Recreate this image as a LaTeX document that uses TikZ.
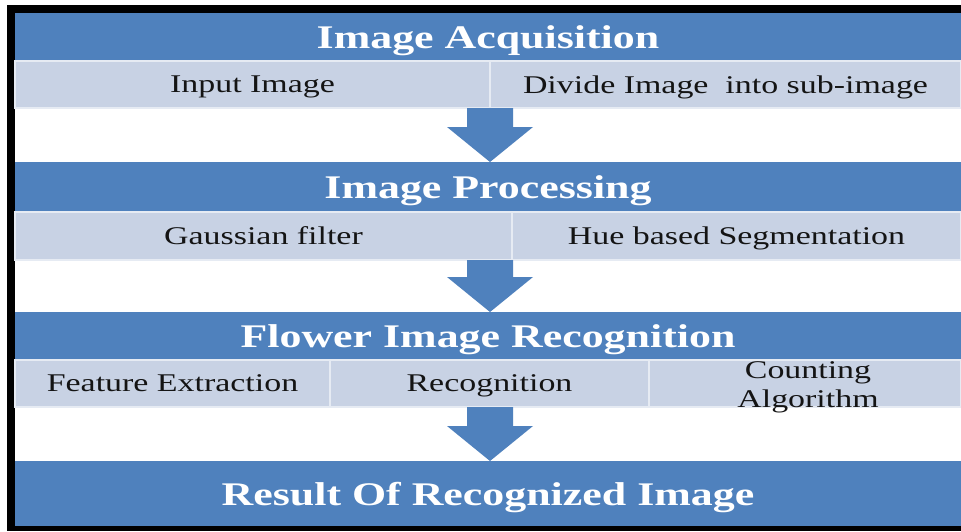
\documentclass[tikz,border=0pt]{standalone}
\usepackage{fontspec}
\setmainfont{Liberation Serif}[FakeStretch=1.33]
\usetikzlibrary{calc}
\definecolor{hblue}{HTML}{4F81BD}
\definecolor{lblue}{HTML}{C8D2E4}
\definecolor{celltxt}{HTML}{141414}
\newcommand\flowarrow[2]{%
  \fill[hblue] ($(#1)+(-23,0)$) -- ($(#1)+(23,0)$) -- ($(#2)+(23,-35)$) -- ($(#2)+(43,-35)$)
    -- (#2) -- ($(#2)+(-43,-35)$) -- ($(#2)+(-23,-35)$) -- cycle;}
\begin{document}
\begin{tikzpicture}[x=1pt,y=-1pt,
  headbar/.style={fill=hblue, text=white, font=\fontsize{33}{36}\selectfont\bfseries,
    inner sep=0pt, outer sep=0pt, anchor=north west, minimum width=946pt, text depth=0pt},
  cell/.style={fill=lblue, draw=white!55!lblue, line width=1.2pt, inner sep=0pt, outer sep=0pt,
    anchor=north west, text=celltxt, font=\fontsize{25.5}{29}\selectfont, align=center, text depth=0pt},
  celltext/.style={text=celltxt, font=\fontsize{25.5}{29}\selectfont, align=center, inner sep=0pt}]
\useasboundingbox (0,0) rectangle (961,531);
\fill[white] (0,0) rectangle (961,531);
% black frame
\fill[black] (7,5) rectangle (961,531);
\fill[white] (15,13) rectangle (961,526);
% stage 1
\node[headbar, minimum height=48pt] (h1) at (15,13) {Image Acquisition};
\node[cell, minimum width=475pt, minimum height=47pt] (c11) at (15,61) {Input Image};
\node[cell, minimum width=471pt, minimum height=47pt] (c12) at (490,61) {Divide Image\ \ into sub-image};
% stage 2
\node[headbar, minimum height=50pt] (h2) at (15,162) {Image Processing};
\node[cell, minimum width=497pt, minimum height=48pt] (c21) at (15,212) {Gaussian filter};
\node[cell, minimum width=449pt, minimum height=48pt] (c22) at (512,212) {Hue based Segmentation};
% stage 3
\node[headbar, minimum height=48pt] (h3) at (15,312) {Flower Image Recognition};
\node[cell, minimum width=315pt, minimum height=47pt] (c31) at (15,360) {Feature Extraction};
\node[cell, minimum width=319pt, minimum height=47pt] (c32) at (330,360) {Recognition};
\node[cell, minimum width=312pt, minimum height=47pt] (c33) at (649,360) {};
\node[celltext] (t33) at ($(c33.center)+(3,4)$) {Counting\\Algorithm};
% stage 4
\node[headbar, minimum height=65pt] (h4) at (15,461) {Result Of Recognized Image};
% arrows
\coordinate (ax) at (490,0);
\coordinate (a1s) at (ax |- c11.south);
\coordinate (a1e) at (ax |- h2.north);
\coordinate (a2s) at (ax |- c21.south);
\coordinate (a2e) at (ax |- h3.north);
\coordinate (a3s) at (ax |- c31.south);
\coordinate (a3e) at (ax |- h4.north);
\flowarrow{a1s}{a1e}
\flowarrow{a2s}{a2e}
\flowarrow{a3s}{a3e}
\end{tikzpicture}
\end{document}
